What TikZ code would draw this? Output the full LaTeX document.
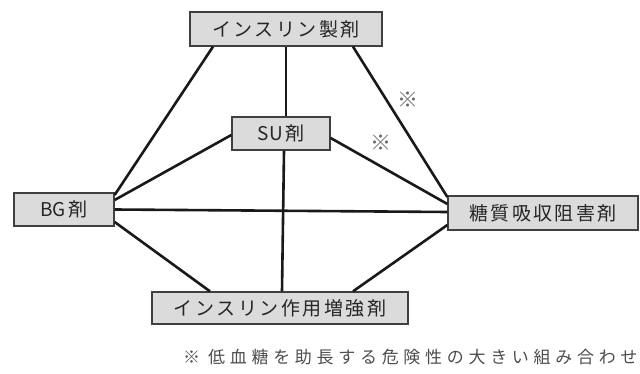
\documentclass[tikz,border=0pt]{standalone}
\usepackage{fontspec}
\setmainfont{Noto Sans CJK JP}
\newcommand\gp{\hspace{2.5pt}}
\newcommand\np{\hspace{4.7pt}}
\begin{document}
\begin{tikzpicture}[x=1pt,y=-1pt,
  drug/.style={draw=black!75,line width=1.3pt,fill=black!14,text=black!85,inner sep=0pt,
    font=\fontsize{19}{19}\selectfont},
  link/.style={line width=2.6pt,black!90},
  refmark/.style={text=black!60,font=\fontsize{21}{21}\selectfont,inner sep=0pt}]
\useasboundingbox (0,0) rectangle (640,374);
\node[drug,minimum width=192pt,minimum height=34pt] (ins) at (286,29) {イ\gp ン\gp ス\gp リ\gp ン\gp 製\gp 剤};
\node[drug,minimum width=98pt,minimum height=33pt] (su) at (281,133.5) {SU\gp 剤};
\node[drug,minimum width=100pt,minimum height=33pt] (bg) at (64,209.5) {BG\gp 剤};
\node[drug,minimum width=190pt,minimum height=34pt] (ag) at (543,213) {糖\gp 質\gp 吸\gp 収\gp 阻\gp 害\gp 剤};
\node[drug,minimum width=256pt,minimum height=32pt] (ise) at (280,308) {イ\gp ン\gp ス\gp リ\gp ン\gp 作\gp 用\gp 増\gp 強\gp 剤};
\draw[link] ([xshift=-73pt]ins.south) -- ([yshift=14.5pt]bg.east);
\draw[link] (ins.south) -- (ins.south |- su.north);
\draw[link] ([xshift=67pt]ins.south) -- ([yshift=16pt]ag.west);
\draw[link] ([yshift=-1.5pt]su.west) -- ([yshift=9.5pt]bg.east);
\draw[link] ([yshift=-4.5pt]su.east) -- ([yshift=9pt]ag.west);
\draw[link] ([xshift=3pt]su.south) -- ([xshift=2pt]ise.north);
\draw[link] (bg.east) -- ([yshift=1pt]ag.west);
\draw[link] ([yshift=-12.5pt]bg.east) -- ([xshift=-70pt]ise.north);
\draw[link] ([yshift=-12pt]ag.west) -- ([xshift=73pt]ise.north);
\node[refmark] (m1) at (408,100) {※};
\node[refmark] (m2) at (381,143) {※};
\node[anchor=west,inner sep=0pt,text=black!70,font=\fontsize{17}{17}\selectfont] (note) at (183,357)
  {※\hspace{8pt}低\np 血\np 糖\np を\np 助\np 長\np す\np る\np 危\np 険\np 性\np の\np 大\np き\np い\np 組\np み\np 合\np わ\np せ};
\end{tikzpicture}
\end{document}
